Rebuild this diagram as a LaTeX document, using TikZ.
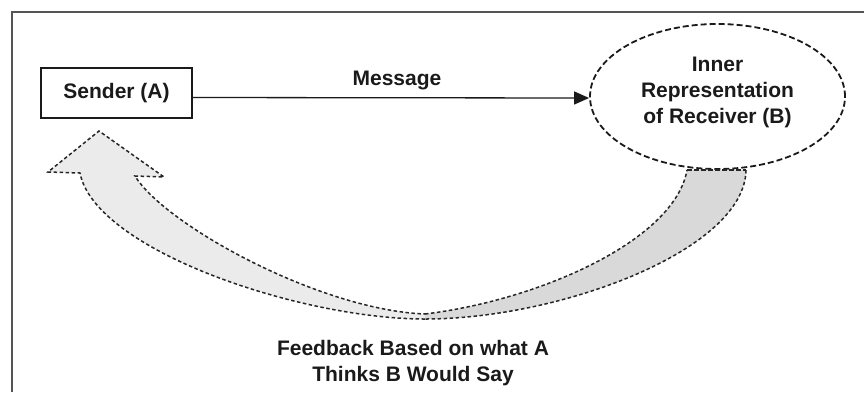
\documentclass[tikz,border=0pt]{standalone}
\usepackage{fontspec}
\setmainfont{Liberation Sans}
\usetikzlibrary{shapes.geometric,arrows.meta}

\definecolor{inkc}{HTML}{1A1A1A}
\definecolor{framec}{HTML}{555555}
\definecolor{bandlight}{HTML}{EBEBEB}
\definecolor{banddark}{HTML}{D9D9D9}

\tikzset{
  lbl/.style={font=\fontsize{21}{26}\selectfont\bfseries, text=inkc, inner sep=0pt},
  senderbox/.style={draw=inkc, line width=1.3pt, minimum width=151pt, minimum height=50pt, inner sep=0pt},
  recvshape/.style={ellipse, draw=inkc, fill=white, line width=1.8pt, dash pattern=on 6pt off 3pt,
                    minimum width=255pt, minimum height=145pt, inner sep=0pt},
  msgline/.style={draw=inkc, line width=1.3pt, -{Triangle[length=15pt,width=13pt]}},
  bandedge/.style={draw=black!85, line width=1.5pt, dash pattern=on 3.5pt off 2.5pt},
  frameline/.style={draw=framec, line width=1.2pt}
}

\begin{document}
\begin{tikzpicture}[x=1pt,y=-1pt]
\useasboundingbox (0,0) rectangle (864,392);

% frame
\draw[frameline] (12,392) -- (12,12) -- (864,12);

% curved feedback band: light left part with arrow head, darker right part
\coordinate (pin) at (425,314);
\coordinate (pout) at (425,319);
\fill[bandlight] (pout) .. controls (300,319) and (95,250) .. (80,173)
  -- (48,172) -- (99,131) -- (164,177) -- (135,176)
  .. controls (165,225) and (320,310) .. (pin) -- cycle;
\fill[banddark] (pin) .. controls (540,300) and (675,240) .. (687,170)
  -- (746,170) .. controls (745,250) and (560,319) .. (pout) -- cycle;
\draw[bandedge] (pout) .. controls (300,319) and (95,250) .. (80,173)
  -- (48,172) -- (99,131) -- (164,177) -- (135,176)
  .. controls (165,225) and (320,310) .. (pin);
\draw[bandedge] (pin) .. controls (540,300) and (675,240) .. (687,170);
\draw[bandedge] (746,170) .. controls (745,250) and (560,319) .. (pout);

% nodes
\node[senderbox, lbl] (sender) at (116.5,93) {Sender (A)};
\node[recvshape] (recv) at (717.5,96.5) {};
\draw[bandedge, line width=1.8pt, dash pattern=on 5pt off 2pt] (687,170) -- (746,170);
\node[lbl, align=center] (recvlabel) at (717.5,92.7) {Inner\\Representation\\of Receiver (B)};

% message connector
\draw[msgline] ([yshift=-4.5pt]sender.east) -- ([yshift=-1.5pt]recv.west);
\node[lbl, anchor=base] (msglabel) at (397,85) {Message};

% feedback caption
\node[lbl, align=center] (fblabel) at (413,363.5) {Feedback Based on what A\\Thinks B Would Say};
\end{tikzpicture}
\end{document}
